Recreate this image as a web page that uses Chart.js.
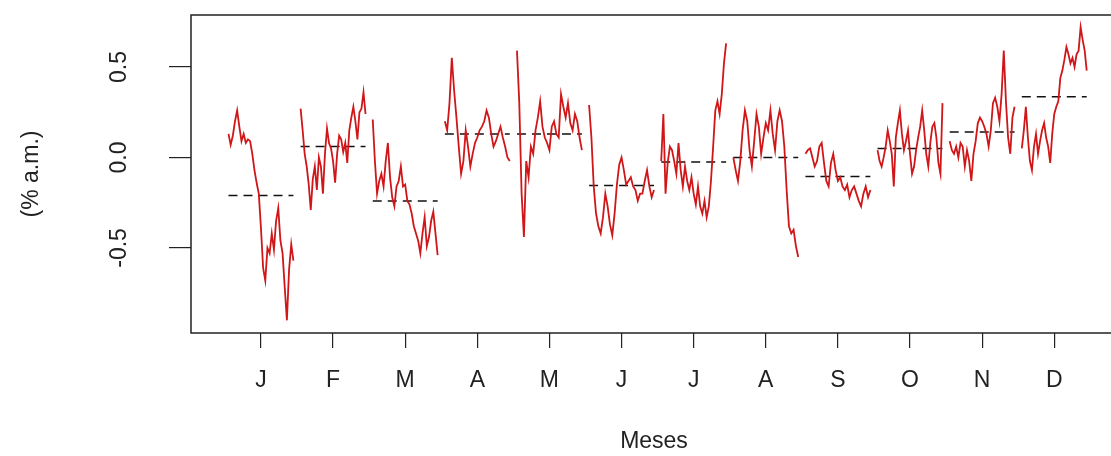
<!DOCTYPE html>
<html>
<head>
<meta charset="utf-8">
<script src="https://cdn.jsdelivr.net/npm/chart.js@4.4.1/dist/chart.umd.min.js"></script>
<style>
  html, body { margin: 0; padding: 0; background: #fff; overflow: hidden; }
</style>
</head>
<body>
<canvas id="monthChart" width="1125" height="456"></canvas>
<script>
// Month labels and tick positions
const monthLabels = ['J', 'F', 'M', 'A', 'M', 'J', 'J', 'A', 'S', 'O', 'N', 'D'];
const monthTicks = [1, 2, 3, 4, 5, 6, 7, 8, 9, 10, 11, 12];
const yTicks = [-0.5, 0, 0.5];

// Daily values per month (% a.m.)
const janValues = [0.13, 0.07, 0.12, 0.20, 0.26, 0.17, 0.09, 0.13, 0.08, 0.10, 0.09, 0.02, -0.07, -0.14, -0.20, -0.39, -0.61, -0.68, -0.50, -0.53, -0.42, -0.51, -0.35, -0.28, -0.46, -0.53, -0.72, -0.90, -0.62, -0.48, -0.57];
const febValues = [0.27, 0.15, 0.02, -0.05, -0.15, -0.29, -0.12, -0.05, -0.18, 0.00, -0.05, -0.20, 0.02, 0.16, 0.08, 0.05, -0.02, -0.14, 0.02, 0.12, 0.10, 0.03, 0.08, -0.03, 0.15, 0.22, 0.28, 0.20, 0.10, 0.25, 0.27, 0.36, 0.24];
const marValues = [0.21, -0.02, -0.20, -0.13, -0.09, -0.16, -0.02, 0.08, -0.11, -0.22, -0.27, -0.16, -0.13, -0.05, -0.16, -0.15, -0.24, -0.26, -0.31, -0.38, -0.42, -0.46, -0.53, -0.42, -0.33, -0.49, -0.44, -0.35, -0.30, -0.42, -0.54];
const aprValues = [0.20, 0.15, 0.30, 0.55, 0.37, 0.22, 0.06, -0.09, -0.02, 0.15, 0.06, -0.05, 0.02, 0.08, 0.11, 0.15, 0.17, 0.20, 0.26, 0.22, 0.13, 0.06, 0.09, 0.13, 0.17, 0.11, 0.06, 0.00, -0.02];
const mayValues = [0.59, 0.30, -0.20, -0.44, -0.02, -0.11, 0.06, 0.02, 0.15, 0.22, 0.31, 0.17, 0.11, 0.08, 0.04, 0.17, 0.20, 0.13, 0.11, 0.35, 0.28, 0.22, 0.30, 0.19, 0.15, 0.24, 0.20, 0.11, 0.04];
const junValues = [0.29, 0.11, -0.16, -0.31, -0.38, -0.42, -0.33, -0.20, -0.27, -0.37, -0.43, -0.31, -0.15, -0.04, 0.00, -0.07, -0.15, -0.13, -0.11, -0.16, -0.18, -0.24, -0.20, -0.20, -0.13, -0.07, -0.16, -0.22, -0.18];
const julValues = [-0.02, 0.24, -0.20, -0.03, 0.06, 0.04, -0.02, -0.09, 0.08, -0.07, -0.16, -0.05, -0.13, -0.18, -0.11, -0.20, -0.26, -0.16, -0.27, -0.31, -0.24, -0.33, -0.27, -0.13, 0.06, 0.26, 0.31, 0.24, 0.35, 0.52, 0.63];
const augValues = [0.00, -0.07, -0.13, -0.02, 0.15, 0.26, 0.20, 0.04, -0.05, 0.09, 0.24, 0.17, 0.02, 0.11, 0.19, 0.15, 0.26, 0.13, 0.04, 0.20, 0.26, 0.20, 0.06, -0.18, -0.38, -0.42, -0.40, -0.49, -0.55];
const sepValues = [0.02, 0.04, 0.05, 0.00, -0.05, -0.02, 0.06, 0.08, -0.03, -0.13, -0.16, -0.03, 0.02, -0.07, -0.13, -0.11, -0.16, -0.18, -0.15, -0.22, -0.18, -0.16, -0.20, -0.24, -0.27, -0.20, -0.16, -0.22, -0.18];
const octValues = [0.04, -0.02, -0.05, 0.00, 0.06, 0.15, 0.09, 0.02, -0.16, 0.11, 0.19, 0.26, 0.13, 0.04, 0.09, 0.15, 0.02, -0.09, -0.05, 0.04, 0.11, 0.17, 0.26, 0.15, 0.02, -0.05, 0.08, 0.17, 0.19, 0.11, -0.03, -0.09, 0.30];
const novValues = [0.09, 0.04, 0.02, 0.06, 0.00, 0.08, 0.06, -0.05, 0.04, -0.02, -0.13, 0.02, 0.09, 0.19, 0.22, 0.20, 0.17, 0.13, 0.06, 0.15, 0.30, 0.33, 0.28, 0.20, 0.35, 0.59, 0.31, 0.11, 0.02, 0.22, 0.28];
const decValues = [0.05, 0.15, 0.28, 0.11, -0.02, -0.07, 0.06, 0.13, 0.02, 0.09, 0.15, 0.19, 0.11, 0.06, -0.03, 0.13, 0.24, 0.28, 0.31, 0.44, 0.48, 0.54, 0.61, 0.57, 0.52, 0.55, 0.50, 0.57, 0.59, 0.72, 0.65, 0.59, 0.48];

// Monthly means (dashed lines)
const monthMeans = [-0.21, 0.06, -0.24, 0.13, 0.13, -0.155, -0.025, 0.0, -0.105, 0.05, 0.14, 0.335];

const monthSeries = [janValues, febValues, marValues, aprValues, mayValues, junValues,
    julValues, augValues, sepValues, octValues, novValues, decValues];

const fontFamily = "'Liberation Sans', Arial, sans-serif";
const halfWidth = 0.45;

const datasets = [];
monthSeries.forEach((values, i) => {
    const m = monthTicks[i];
    const n = values.length;
    datasets.push({
        data: values.map((v, k) => ({ x: m - halfWidth + k * (2 * halfWidth) / (n - 1), y: v })),
        borderColor: 'rgb(208, 22, 24)',
        borderWidth: 1.8,
        pointRadius: 0,
        showLine: true,
        tension: 0
    });
});
monthMeans.forEach((mean, i) => {
    const m = monthTicks[i];
    datasets.push({
        data: [{ x: m - halfWidth, y: mean }, { x: m + halfWidth, y: mean }],
        borderColor: '#111',
        borderWidth: 1.5,
        borderDash: [9, 6],
        pointRadius: 0,
        showLine: true
    });
});

// box around the plotting region, like base R
const boxPlugin = {
    id: 'box',
    afterDraw(chart) {
        const { ctx, chartArea } = chart;
        ctx.save();
        ctx.strokeStyle = '#222';
        ctx.lineWidth = 1.5;
        ctx.strokeRect(chartArea.left, chartArea.top, chartArea.right - chartArea.left, chartArea.bottom - chartArea.top);
        ctx.restore();
    }
};

const ctx = document.getElementById('monthChart').getContext('2d');
const chart = new Chart(ctx, {
    type: 'scatter',
    data: { datasets: datasets },
    plugins: [boxPlugin],
    options: {
        responsive: false,
        animation: false,
        layout: { padding: { top: 15, right: 8, bottom: 0, left: 0 } },
        plugins: { legend: { display: false }, tooltip: { enabled: false } },
        scales: {
            x: {
                type: 'linear',
                min: 0.03,
                max: 12.87,
                afterFit: (scale) => {
                    scale.height = 123;
                    scale.paddingLeft = 0;
                    scale.paddingRight = 0;
                },
                afterBuildTicks: (scale) => { scale.ticks = monthTicks.map(v => ({ value: v })); },
                border: { display: false },
                grid: { drawOnChartArea: false, color: '#222', tickLength: 15, lineWidth: 1.2 },
                ticks: {
                    autoSkip: false,
                    maxRotation: 0,
                    padding: 19,
                    color: '#222',
                    font: { family: fontFamily, size: 23 },
                    callback: (v) => monthLabels[v - 1]
                },
                title: {
                    display: true,
                    text: 'Meses',
                    color: '#222',
                    font: { family: fontFamily, size: 23 },
                    padding: { top: 0, bottom: 1 }
                }
            },
            y: {
                min: -0.97,
                max: 0.787,
                afterFit: (scale) => {
                    scale.width = 191;
                    scale.paddingTop = 0;
                    scale.paddingBottom = 0;
                },
                afterBuildTicks: (scale) => { scale.ticks = yTicks.map(v => ({ value: v })); },
                border: { display: false },
                grid: { drawOnChartArea: false, color: '#222', tickLength: 22, lineWidth: 1.2 },
                ticks: {
                    minRotation: 90,
                    maxRotation: 90,
                    crossAlign: 'center',
                    padding: 30,
                    color: '#222',
                    font: { family: fontFamily, size: 23 },
                    callback: (v) => v.toFixed(1)
                },
                title: {
                    display: true,
                    text: '(% a.m.)',
                    color: '#222',
                    font: { family: fontFamily, size: 23 },
                    padding: { top: 18, bottom: 0 }
                }
            }
        }
    }
});
</script>
</body>
</html>
